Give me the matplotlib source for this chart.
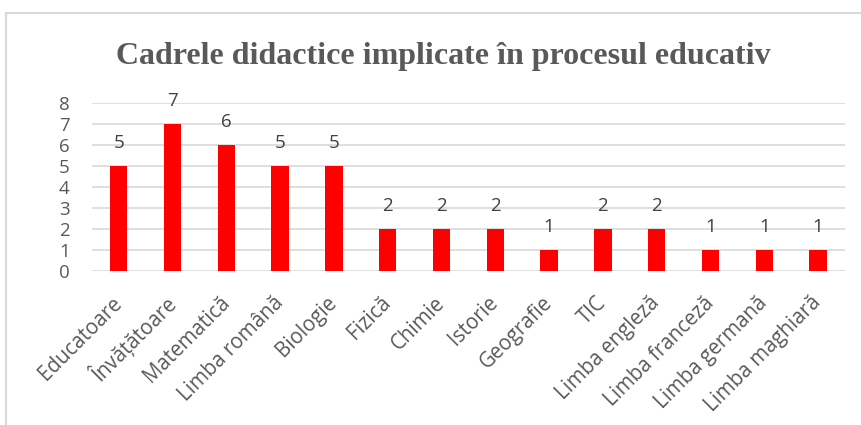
import matplotlib
matplotlib.use("Agg")
import matplotlib.pyplot as plt
from matplotlib.lines import Line2D

categories = ["Educatoare", "Învățătoare", "Matematică", "Limba română", "Biologie",
              "Fizică", "Chimie", "Istorie", "Geografie", "TIC", "Limba engleză",
              "Limba franceză", "Limba germană", "Limba maghiară"]
values = [5, 7, 6, 5, 5, 2, 2, 2, 1, 2, 2, 1, 1, 1]
yticks = [0, 1, 2, 3, 4, 5, 6, 7, 8]
title = "Cadrele didactice implicate în procesul educativ"

W, H = 861, 425
fig = plt.figure(figsize=(W / 100, H / 100), dpi=100)
fig.patch.set_facecolor("white")

# chart frame
frame_col = "#d9d9d9"
fig.add_artist(Line2D([6 / W, 6 / W], [0, 1 - 13 / H], color=frame_col, lw=1.5, transform=fig.transFigure))
fig.add_artist(Line2D([6 / W, 1], [1 - 13 / H, 1 - 13 / H], color=frame_col, lw=1.5, transform=fig.transFigure))

left, right = 91.8 / W, 845 / W
top, bottom = 1 - 103.3 / H, 1 - 270.7 / H
ax = fig.add_axes([left, bottom, right - left, top - bottom])

x = list(range(len(categories)))
ax.bar(x, values, width=0.32, color="#ff0000", zorder=3)
ax.set_xlim(-0.5, len(categories) - 0.5)
ax.set_ylim(0, 8)
ax.set_yticks(yticks)
ax.set_yticklabels([str(t) for t in yticks])

font = "Open Sans"
for s in ["top", "right", "left", "bottom"]:
    ax.spines[s].set_visible(False)
ax.yaxis.grid(True, color="#d9d9d9", lw=1.2, zorder=0)
ax.set_axisbelow(True)
ax.tick_params(axis="both", length=0)
ax.tick_params(axis="y", pad=16, labelsize=13.5, labelcolor="#595959")
for lab in ax.get_yticklabels():
    lab.set_fontfamily(font)

ax.set_xticks(x)
ax.set_xticklabels(categories, rotation=45, ha="right", va="center", rotation_mode="anchor",
                   fontsize=14.8, color="#595959", fontfamily=font)
ax.tick_params(axis="x", pad=21)

for xi, v in zip(x, values):
    ax.annotate(str(v), (xi, v), xytext=(0, 10), textcoords="offset points",
                ha="center", va="bottom", fontsize=13.5, color="#404040", fontfamily=font)

fig.text(443 / W, 1 - 64 / H, title, ha="center", va="baseline",
         fontsize=23, fontweight="bold", color="#595959", fontfamily="Liberation Serif")

fig.savefig("out.png", dpi=100, facecolor="white")
